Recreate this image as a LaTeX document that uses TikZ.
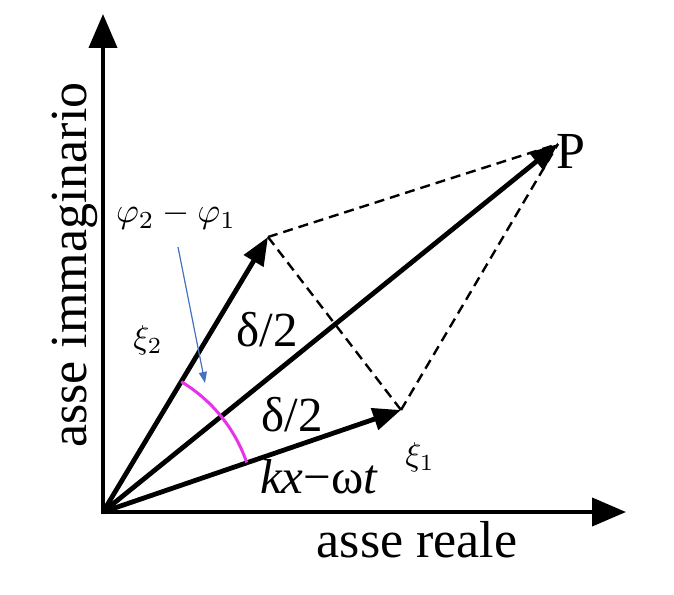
\documentclass[tikz,border=0pt]{standalone}
\usepackage{graphicx}
\usepackage{fontspec}
\setmainfont{Liberation Serif}
\usetikzlibrary{arrows.meta}
\definecolor{arcmag}{RGB}{232,50,232}
\definecolor{officeblue}{RGB}{68,114,196}
\begin{document}
\begin{tikzpicture}[x=1pt,y=-1pt,
  axisline/.style={line width=4, -{Triangle[length=34,width=28]}},
  vecline/.style={line width=4.8, -{Triangle[length=28,width=22]}},
  dshline/.style={line width=2.4, dash pattern=on 10 off 6},
  arcline/.style={line width=3, draw=arcmag},
  pointer/.style={line width=1.2, draw=officeblue, -{Triangle[length=11,width=8]}, fill=officeblue},
  bigtxt/.style={font=\fontsize{52}{52}\selectfont, inner sep=0},
  midtxt/.style={font=\fontsize{49}{49}\selectfont, inner sep=0},
  mathtxt/.style={inner sep=0},
]
\useasboundingbox (0,0) rectangle (674,594);
\coordinate (O) at (103,512);
\coordinate (Ybot) at (103,514);
\coordinate (Ytop) at (103,14);
\coordinate (Xbeg) at (101,512);
\coordinate (Xend) at (626,512);
\coordinate (X2) at (268,237);
\coordinate (X1) at (401,410);
\coordinate (P) at (558,144);
\coordinate (A1) at (246.7,462.5);
\coordinate (Bs) at (178,247);
\coordinate (Be) at (205,383);

% axes
\draw[axisline] (Ybot) -- (Ytop);
\draw[axisline] (Xbeg) -- (Xend);

% dashed parallelogram sides
\draw[dshline] (X2) -- (P);
\draw[dshline] (X2) -- (X1);
\draw[dshline] (X1) -- (P);

% vectors
\draw[vecline] (O) -- (X2);
\draw[vecline] (O) -- (X1);
\draw[vecline] (O) -- (P);

% angle arc
\draw[arcline] (A1) arc[start angle=19, end angle=59, radius=152pt];

% pointer
\draw[pointer] (Bs) -- (Be);

% labels
\node[bigtxt] (lP) at (571,151) {P};
\node[bigtxt, anchor=base] (lre) at (417,557) {asse reale};
\node[bigtxt, anchor=base, rotate=90] (lim) at (86,265) {asse immaginario};
\node[midtxt] (d1) at (267,330) {δ/2};
\node[midtxt] (d2) at (292,415) {δ/2};
\node[midtxt, anchor=base] (ph) at (319,493) {\textit{kx}−ω\textit{t}};
\node[mathtxt] (x2) at (148,340) {\scalebox{3.3}{$\xi_2$}};
\node[mathtxt] (x1) at (420,457) {\scalebox{3.3}{$\xi_1$}};
\node[mathtxt] (pp) at (176,216) {\scalebox{3.5}{$\varphi_2-\varphi_1$}};
\end{tikzpicture}
\end{document}
